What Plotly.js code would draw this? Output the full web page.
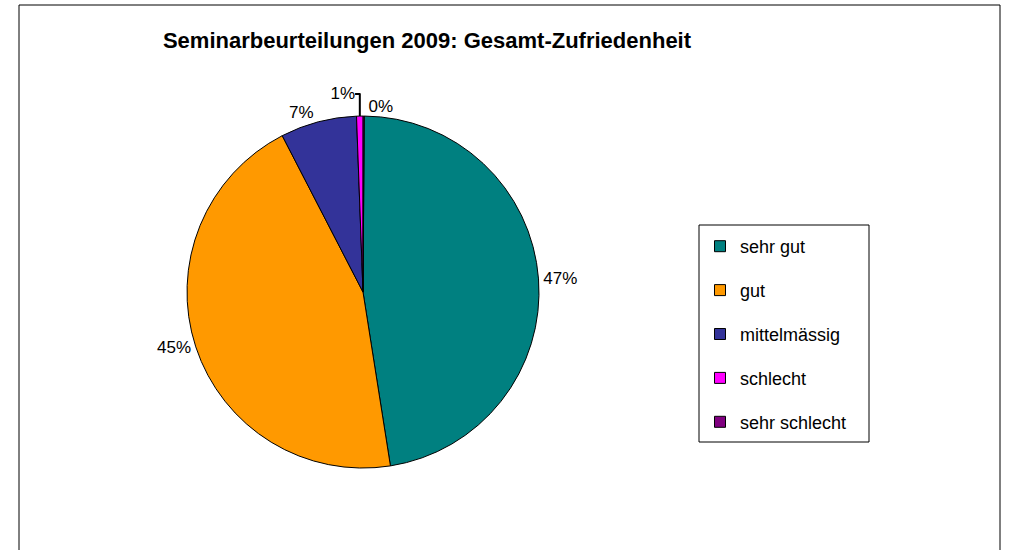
<!DOCTYPE html>
<html>
<head>
<meta charset="utf-8">
<script src="https://cdn.plot.ly/plotly-3.0.1.min.js"></script>
<style>html,body{margin:0;padding:0;background:#fff;}#chart{width:1014px;height:550px;}</style>
</head>
<body>
<div id="chart"></div>
<script>
const categories = ["sehr gut", "gut", "mittelmässig", "schlecht", "sehr schlecht"];
const values = [47.4, 44.9, 7.0, 0.6, 0.1];
const colors = ["#008080", "#FF9900", "#333399", "#FF00FF", "#800080"];

const font = "Arial, 'Liberation Sans', sans-serif";

const pie = {
  type: "pie",
  labels: categories,
  values: values,
  sort: false,
  direction: "clockwise",
  rotation: 0.4,
  marker: {colors: colors, line: {color: "#000", width: 1}},
  textposition: "outside",
  texttemplate: "%{percent:.0%}",
  textfont: {family: font, size: 17, color: "#000"},
  showlegend: false,
  hoverinfo: "label+percent",
  domain: {x: [0.1844, 0.5316], y: [0.149, 0.789]}
};

const legendTraces = categories.map((c, i) => ({
  type: "scatter",
  x: [null], y: [null],
  mode: "markers",
  name: c,
  legendgroup: "g" + i,
  marker: {symbol: "square", size: 11, color: colors[i], line: {color: "#000", width: 1}},
  showlegend: true
}));

const layout = {
  width: 1014, height: 550,
  margin: {l: 0, r: 0, t: 0, b: 0},
  paper_bgcolor: "#fff", plot_bgcolor: "rgba(0,0,0,0)",
  font: {family: font, color: "#000"},
  title: {
    text: "<b>Seminarbeurteilungen 2009: Gesamt-Zufriedenheit</b>",
    font: {family: font, size: 22, color: "#000"},
    x: 427/1014, xref: "paper", xanchor: "center",
    y: 1 - 40/550, yref: "container", yanchor: "middle"
  },
  xaxis: {visible: false, domain: [0.7, 0.71]},
  yaxis: {visible: false, domain: [0.5, 0.51]},
  showlegend: true,
  legend: {
    x: 700/1014, xanchor: "left",
    y: 1 - 228/550, yanchor: "top",
    borderwidth: 0,
    bgcolor: "rgba(0,0,0,0)",
    font: {family: font, size: 18, color: "#000"},
    tracegroupgap: 17.5,
    itemclick: false, itemdoubleclick: false
  },
  shapes: [
    {
      type: "rect", xref: "paper", yref: "paper",
      x0: 19/1014, x1: 1000/1014, y0: -0.02, y1: 1 - 5/550,
      line: {color: "#000", width: 1}, fillcolor: "rgba(0,0,0,0)", layer: "below"
    },
    {
      type: "rect", xref: "paper", yref: "paper",
      x0: 699/1014, x1: 869/1014, y0: 1 - 442/550, y1: 1 - 225/550,
      line: {color: "#000", width: 1}, fillcolor: "rgba(0,0,0,0)", layer: "below"
    }
  ]
};

Plotly.newPlot("chart", [pie].concat(legendTraces), layout, {displayModeBar: false, staticPlot: true});
</script>
</body>
</html>
